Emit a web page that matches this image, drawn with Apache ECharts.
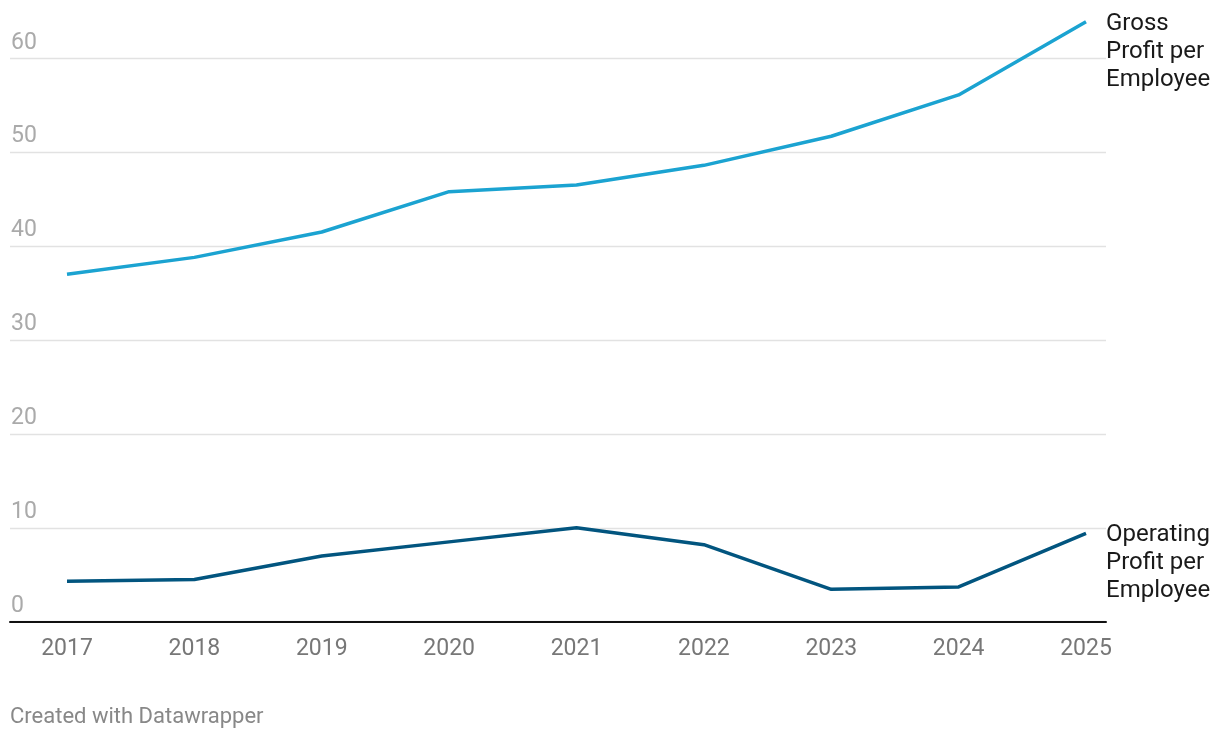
<!DOCTYPE html>
<html>
<head>
<meta charset="utf-8">
<script src="https://cdn.jsdelivr.net/npm/echarts@6/dist/echarts.min.js"></script>
<style>
html,body{margin:0;padding:0;background:#fff;}
#c{width:1220px;height:738px;}
</style>
</head>
<body>
<div id="c"></div>
<script>
const years = ['2017','2018','2019','2020','2021','2022','2023','2024','2025'];
const grossProfit = [37.0, 38.8, 41.5, 45.8, 46.5, 48.6, 51.7, 56.1, 63.9];
const operatingProfit = [4.3, 4.5, 7.0, 8.5, 10.0, 8.2, 3.45, 3.7, 9.4];
const yTicks = [0, 10, 20, 30, 40, 50, 60];

const FONT = 'Roboto';
const zeroY = 621.7;
const pxPerUnit = 9.39;
const bottom = 738 - zeroY;
const topBg = zeroY - 60 * pxPerUnit;
const topSeries = zeroY - 65 * pxPerUnit;

const chart = echarts.init(document.getElementById('c'), null, {renderer: 'canvas'});
chart.setOption({
  animation: false,
  backgroundColor: '#fff',
  grid: [
    {left: 10, right: 114, top: topBg, bottom: bottom},
    {left: 67, right: 134, top: topSeries, bottom: bottom}
  ],
  xAxis: [
    {gridIndex: 0, type: 'value', min: 0, max: 1, show: true,
     axisLine: {show: true, onZero: false, lineStyle: {color: '#111', width: 2}},
     axisTick: {show: false}, axisLabel: {show: false}, splitLine: {show: false}},
    {gridIndex: 1, type: 'category', data: years, boundaryGap: false,
     axisLine: {show: false}, axisTick: {show: false}, splitLine: {show: false},
     axisLabel: {color: '#777', fontFamily: FONT, fontSize: 23, margin: 16, interval: 0}}
  ],
  yAxis: [
    {gridIndex: 0, type: 'value', min: 0, max: 60, interval: 10,
     axisLine: {show: false}, axisTick: {show: false},
     splitLine: {show: true, lineStyle: {color: '#e2e2e2', width: 1.3}},
     axisLabel: {inside: true, margin: 1, color: '#aaa', fontFamily: FONT, fontSize: 23,
       verticalAlign: 'bottom', lineHeight: 23, padding: [0, 0, 4, 0],
       formatter: v => yTicks.includes(v) ? String(v) : ''}},
    {gridIndex: 1, type: 'value', min: 0, max: 65, show: false, splitLine: {show: false}}
  ],
  series: [
    {name: 'Gross Profit per Employee', type: 'line', xAxisIndex: 1, yAxisIndex: 1,
     data: grossProfit, symbol: 'none', lineStyle: {color: '#1ba3d1', width: 3.5}, itemStyle: {color: '#1ba3d1'},
     endLabel: {show: true, formatter: 'Gross\nProfit per\nEmployee', color: '#1a1a1a', fontFamily: FONT,
       fontSize: 24, lineHeight: 28, distance: 20, offset: [0, 30], align: 'left'}},
    {name: 'Operating Profit per Employee', type: 'line', xAxisIndex: 1, yAxisIndex: 1,
     data: operatingProfit, symbol: 'none', lineStyle: {color: '#02557f', width: 3.5}, itemStyle: {color: '#02557f'},
     endLabel: {show: true, formatter: 'Operating\nProfit per\nEmployee', color: '#1a1a1a', fontFamily: FONT,
       fontSize: 24, lineHeight: 28, distance: 20, offset: [0, 30], align: 'left'}}
  ],
  graphic: [
    {type: 'text', left: 10, top: 706, style: {text: 'Created with Datawrapper', fill: '#888', font: '22px Roboto'}}
  ]
});
</script>
</body>
</html>
